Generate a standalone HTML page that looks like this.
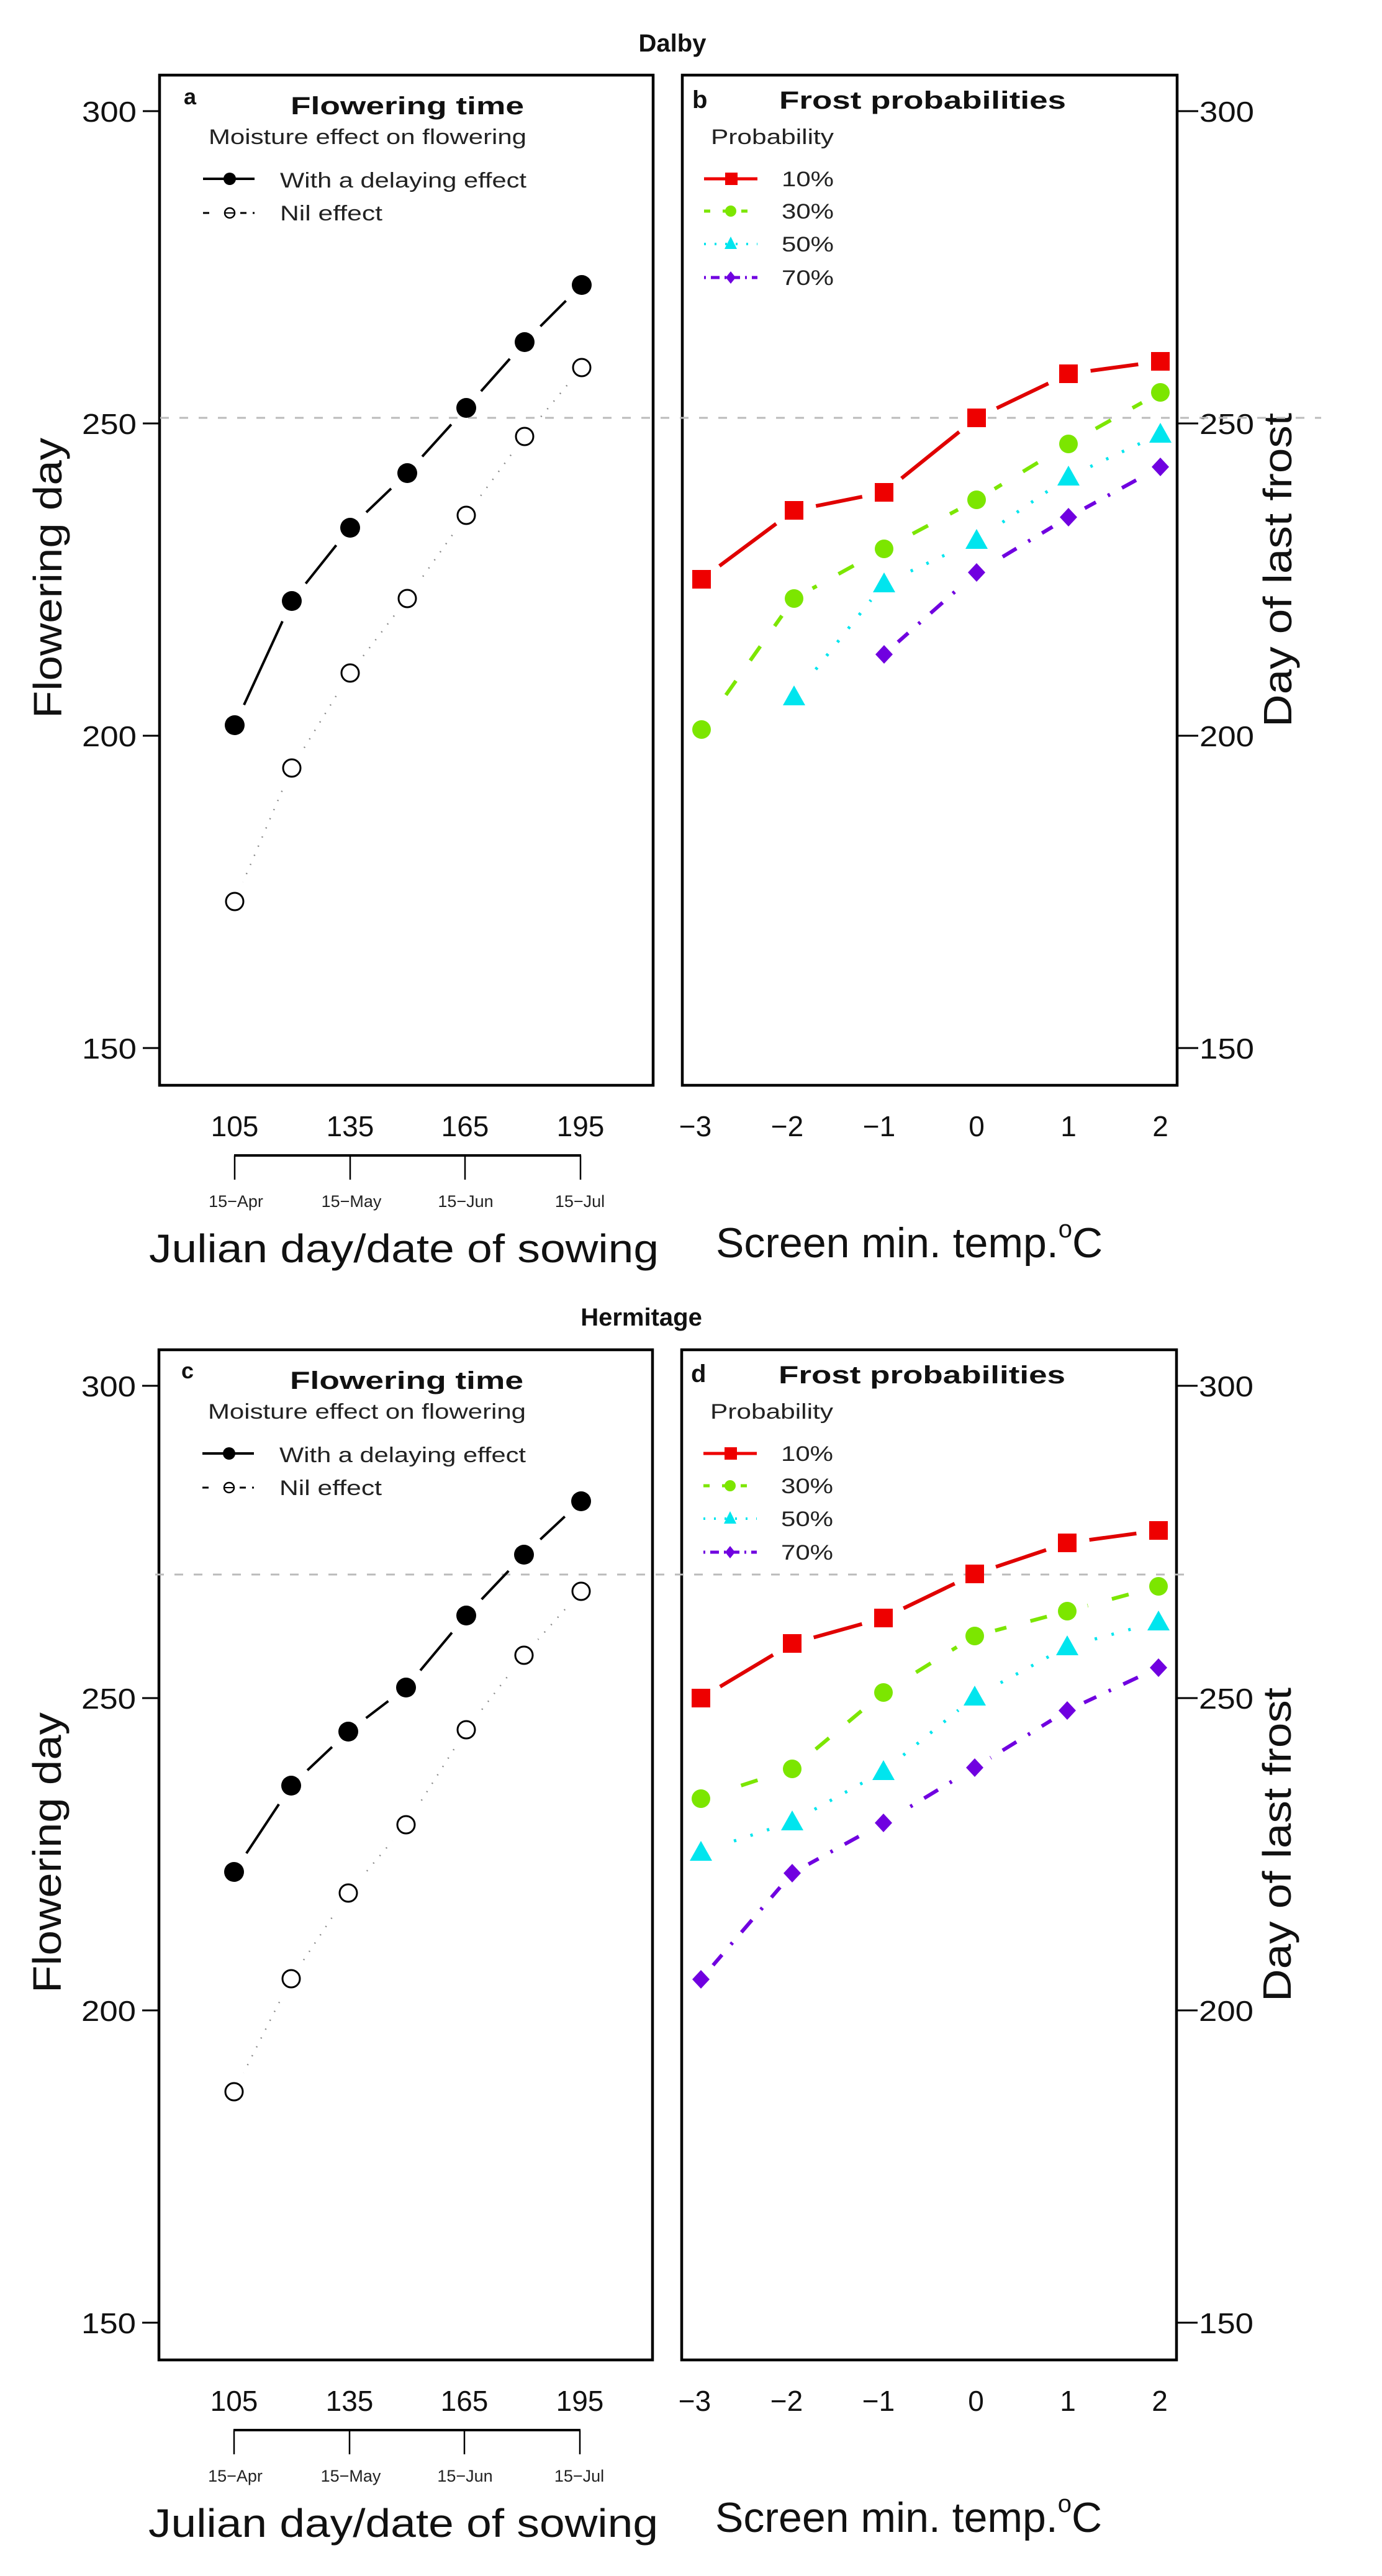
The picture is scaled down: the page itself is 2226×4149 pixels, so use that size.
<!DOCTYPE html>
<html><head><meta charset="utf-8"><style>
html,body{margin:0;padding:0;background:#fff}
svg{display:block}
text{font-family:"Liberation Sans",Arial,sans-serif}
.b{font-weight:bold}
</style></head><body>
<svg width="2226" height="4149" viewBox="0 0 2226 4149" xmlns="http://www.w3.org/2000/svg">
<defs>
<g id="frame">
  <rect x="257" y="121" width="795" height="1627" fill="none" stroke="#000" stroke-width="4.5"/>
  <rect x="1099" y="121" width="797" height="1627" fill="none" stroke="#000" stroke-width="4.5"/>
  <g stroke="#000" stroke-width="3">
    <line x1="230" y1="179" x2="257" y2="179"/><line x1="230" y1="682" x2="257" y2="682"/>
    <line x1="230" y1="1185" x2="257" y2="1185"/><line x1="230" y1="1688" x2="257" y2="1688"/>
    <line x1="1896" y1="179" x2="1930" y2="179"/><line x1="1896" y1="682" x2="1930" y2="682"/>
    <line x1="1896" y1="1185" x2="1930" y2="1185"/><line x1="1896" y1="1688" x2="1930" y2="1688"/>
  </g>
  <g font-size="46" fill="#111" text-anchor="end">
    <text x="220" y="196" textLength="88" lengthAdjust="spacingAndGlyphs">300</text>
    <text x="220" y="699" textLength="88" lengthAdjust="spacingAndGlyphs">250</text>
    <text x="220" y="1202" textLength="88" lengthAdjust="spacingAndGlyphs">200</text>
    <text x="220" y="1705" textLength="88" lengthAdjust="spacingAndGlyphs">150</text>
  </g>
  <g font-size="46" fill="#111">
    <text x="1932" y="196" textLength="88" lengthAdjust="spacingAndGlyphs">300</text>
    <text x="1932" y="699" textLength="88" lengthAdjust="spacingAndGlyphs">250</text>
    <text x="1932" y="1202" textLength="88" lengthAdjust="spacingAndGlyphs">200</text>
    <text x="1932" y="1705" textLength="88" lengthAdjust="spacingAndGlyphs">150</text>
  </g>
  <g font-size="46" fill="#111" text-anchor="middle">
    <text x="378" y="1830">105</text><text x="564" y="1830">135</text>
    <text x="749" y="1830">165</text><text x="935" y="1830">195</text>
    <text x="1120" y="1830">−3</text><text x="1268" y="1830">−2</text>
    <text x="1416" y="1830">−1</text><text x="1573" y="1830">0</text>
    <text x="1721" y="1830">1</text><text x="1869" y="1830">2</text>
  </g>
  <line x1="377" y1="1861" x2="936" y2="1861" stroke="#000" stroke-width="4"/>
  <g stroke="#000" stroke-width="2.5">
    <line x1="378" y1="1861" x2="378" y2="1900"/><line x1="564" y1="1861" x2="564" y2="1900"/>
    <line x1="749" y1="1861" x2="749" y2="1900"/><line x1="935" y1="1861" x2="935" y2="1900"/>
  </g>
  <g font-size="27" fill="#222" text-anchor="middle">
    <text x="380" y="1944">15−Apr</text><text x="566" y="1944">15−May</text>
    <text x="750" y="1944">15−Jun</text><text x="934" y="1944">15−Jul</text>
  </g>
  <text x="240" y="2033" font-size="64" fill="#111" textLength="821" lengthAdjust="spacingAndGlyphs">Julian day/date of sowing</text>
  <text x="1153" y="2025" font-size="68" fill="#111">Screen min. temp.<tspan dy="-32" font-size="40">o</tspan><tspan dy="32">C</tspan></text>
  <text transform="translate(99,931) rotate(-90)" font-size="64" fill="#111" text-anchor="middle" textLength="452" lengthAdjust="spacingAndGlyphs">Flowering day</text>
  <text transform="translate(2080,918) rotate(-90)" font-size="64" fill="#111" text-anchor="middle" textLength="506" lengthAdjust="spacingAndGlyphs">Day of last frost</text>
  <text x="434" y="184" class="b" font-size="40" fill="#111" textLength="376" lengthAdjust="spacingAndGlyphs" dx="34">Flowering time</text>
  <text x="336" y="232" font-size="34" fill="#222" textLength="512" lengthAdjust="spacingAndGlyphs">Moisture effect on flowering</text>
  <line x1="327" y1="288" x2="410" y2="288" stroke="#000" stroke-width="4"/>
  <circle cx="370" cy="288" r="10" fill="#000"/>
  <text x="451" y="302" font-size="34" fill="#222" textLength="397" lengthAdjust="spacingAndGlyphs">With a delaying effect</text>
  <line x1="327" y1="343" x2="410" y2="343" stroke="#000" stroke-width="3" stroke-dasharray="10,50,10"/>
  <circle cx="370" cy="343" r="8" fill="none" stroke="#000" stroke-width="2.5"/>
  <line x1="362" y1="343" x2="378" y2="343" stroke="#000" stroke-width="2"/>
  <text x="451" y="355" font-size="34" fill="#222" textLength="165" lengthAdjust="spacingAndGlyphs">Nil effect</text>
  <text x="1255" y="175" class="b" font-size="40" fill="#111" textLength="462" lengthAdjust="spacingAndGlyphs">Frost probabilities</text>
  <text x="1145" y="232" font-size="34" fill="#222" textLength="198" lengthAdjust="spacingAndGlyphs">Probability</text>
  <line x1="1134" y1="288" x2="1220" y2="288" stroke="#e00" stroke-width="5"/>
  <rect x="1168" y="278" width="20" height="20" fill="#ee0000"/>
  <line x1="1134" y1="340" x2="1220" y2="340" stroke="#7ce600" stroke-width="5" stroke-dasharray="10,20"/>
  <circle cx="1177" cy="340" r="9" fill="#7ce600"/>
  <line x1="1134" y1="393" x2="1220" y2="393" stroke="#00e5ee" stroke-width="4" stroke-dasharray="3,14"/>
  <path d="M1177 381 L1187 401 L1167 401 Z" fill="#00e5ee"/>
  <line x1="1134" y1="447" x2="1220" y2="447" stroke="#7000e0" stroke-width="5" stroke-dasharray="3,8,14,8"/>
  <path d="M1177 437 L1185 447 L1177 457 L1169 447 Z" fill="#7000e0"/>
  <g font-size="34" fill="#222">
    <text x="1259" y="300" textLength="84" lengthAdjust="spacingAndGlyphs">10%</text>
    <text x="1259" y="352" textLength="84" lengthAdjust="spacingAndGlyphs">30%</text>
    <text x="1259" y="405" textLength="84" lengthAdjust="spacingAndGlyphs">50%</text>
    <text x="1259" y="459" textLength="84" lengthAdjust="spacingAndGlyphs">70%</text>
  </g>
</g>
</defs>

<!-- TOP -->
<text x="1083" y="83" class="b" font-size="40" text-anchor="middle" fill="#111">Dalby</text>
<use href="#frame"/>
<text x="296" y="168" class="b" font-size="36" fill="#111">a</text>
<text x="1115" y="174" class="b" font-size="40" fill="#111">b</text>
<line x1="258" y1="673" x2="2128" y2="673" stroke="#bbb" stroke-width="3" stroke-dasharray="14,17"/>

<mask id="m1"><rect width="2226" height="4149" fill="#fff"/>
<g fill="#000"><circle cx="378" cy="1168" r="36"/><circle cx="470" cy="968" r="36"/><circle cx="564" cy="850" r="36"/><circle cx="656" cy="762" r="36"/><circle cx="751" cy="657" r="36"/><circle cx="845" cy="551" r="36"/><circle cx="937" cy="459" r="36"/></g></mask>
<polyline mask="url(#m1)" points="378,1168 470,968 564,850 656,762 751,657 845,551 937,459" fill="none" stroke="#000" stroke-width="4"/>
<mask id="m2"><rect width="2226" height="4149" fill="#fff"/>
<g fill="#000"><circle cx="378" cy="1452" r="34"/><circle cx="470" cy="1237" r="34"/><circle cx="564" cy="1084" r="34"/><circle cx="656" cy="964" r="34"/><circle cx="751" cy="830" r="34"/><circle cx="845" cy="703" r="34"/><circle cx="937" cy="592" r="34"/></g></mask>
<polyline mask="url(#m2)" points="378,1452 470,1237 564,1084 656,964 751,830 845,703 937,592" fill="none" stroke="#888" stroke-width="2.5" stroke-dasharray="2,14"/>
<g fill="#000"><circle cx="378" cy="1168" r="16"/><circle cx="470" cy="968" r="16"/><circle cx="564" cy="850" r="16"/><circle cx="656" cy="762" r="16"/><circle cx="751" cy="657" r="16"/><circle cx="845" cy="551" r="16"/><circle cx="937" cy="459" r="16"/></g>
<g fill="#fff" stroke="#000" stroke-width="3"><circle cx="378" cy="1452" r="14"/><circle cx="470" cy="1237" r="14"/><circle cx="564" cy="1084" r="14"/><circle cx="656" cy="964" r="14"/><circle cx="751" cy="830" r="14"/><circle cx="845" cy="703" r="14"/><circle cx="937" cy="592" r="14"/></g>

<mask id="m3"><rect width="2226" height="4149" fill="#fff"/>
<g fill="#000">
<circle cx="1130" cy="933" r="36"/><circle cx="1279" cy="822" r="36"/><circle cx="1424" cy="793" r="36"/><circle cx="1573" cy="673" r="36"/><circle cx="1721" cy="602" r="36"/><circle cx="1869" cy="582" r="36"/>
<circle cx="1130" cy="1175" r="34"/><circle cx="1279" cy="964" r="34"/><circle cx="1424" cy="884" r="34"/><circle cx="1573" cy="805" r="34"/><circle cx="1721" cy="715" r="34"/><circle cx="1869" cy="632" r="34"/>
<circle cx="1279" cy="1122" r="34"/><circle cx="1424" cy="940" r="34"/><circle cx="1573" cy="870" r="34"/><circle cx="1721" cy="768" r="34"/><circle cx="1869" cy="699" r="34"/>
<circle cx="1424" cy="1054" r="30"/><circle cx="1573" cy="922" r="30"/><circle cx="1721" cy="833" r="30"/><circle cx="1869" cy="752" r="30"/>
</g></mask>
<g mask="url(#m3)" fill="none">
<polyline points="1130,933 1279,822 1424,793 1573,673 1721,602 1869,582" stroke="#e00000" stroke-width="6"/>
<polyline points="1130,1175 1279,964 1424,884 1573,805 1721,715 1869,632" stroke="#7ce600" stroke-width="6" stroke-dasharray="28,40"/>
<polyline points="1279,1122 1424,940 1573,870 1721,768 1869,699" stroke="#00e5ee" stroke-width="5" stroke-dasharray="4,24"/>
<polyline points="1424,1054 1573,922 1721,833 1869,752" stroke="#7000e0" stroke-width="6" stroke-dasharray="4,22,26,22"/>
</g>
<g fill="#ee0000"><rect x="1115" y="918" width="30" height="30"/><rect x="1264" y="807" width="30" height="30"/><rect x="1409" y="778" width="30" height="30"/><rect x="1558" y="658" width="30" height="30"/><rect x="1706" y="587" width="30" height="30"/><rect x="1854" y="567" width="30" height="30"/></g>
<g fill="#7ce600"><circle cx="1130" cy="1175" r="15"/><circle cx="1279" cy="964" r="15"/><circle cx="1424" cy="884" r="15"/><circle cx="1573" cy="805" r="15"/><circle cx="1721" cy="715" r="15"/><circle cx="1869" cy="632" r="15"/></g>
<g fill="#00e5ee"><path d="M1279 1104 L1297 1136 L1261 1136Z"/><path d="M1424 922 L1442 954 L1406 954Z"/><path d="M1573 852 L1591 884 L1555 884Z"/><path d="M1721 750 L1739 782 L1703 782Z"/><path d="M1869 681 L1887 713 L1851 713Z"/></g>
<g fill="#7000e0"><path d="M1424 1039 L1438 1054 L1424 1069 L1410 1054Z"/><path d="M1573 907 L1587 922 L1573 937 L1559 922Z"/><path d="M1721 818 L1735 833 L1721 848 L1707 833Z"/><path d="M1869 737 L1883 752 L1869 767 L1855 752Z"/></g>

<!-- BOTTOM -->
<text x="1033" y="2135" class="b" font-size="40" text-anchor="middle" fill="#111">Hermitage</text>
<use href="#frame" transform="translate(-1,2053)"/>
<text x="292" y="2220" class="b" font-size="36" fill="#111">c</text>
<text x="1113" y="2226" class="b" font-size="40" fill="#111">d</text>
<line x1="250" y1="2536" x2="1914" y2="2536" stroke="#bbb" stroke-width="3" stroke-dasharray="14,17"/>

<mask id="m4"><rect width="2226" height="4149" fill="#fff"/>
<g fill="#000"><circle cx="377" cy="3015" r="36"/><circle cx="469" cy="2876" r="36"/><circle cx="561" cy="2789" r="36"/><circle cx="654" cy="2718" r="36"/><circle cx="751" cy="2602" r="36"/><circle cx="844" cy="2504" r="36"/><circle cx="936" cy="2418" r="36"/></g></mask>
<polyline mask="url(#m4)" points="377,3015 469,2876 561,2789 654,2718 751,2602 844,2504 936,2418" fill="none" stroke="#000" stroke-width="4"/>
<mask id="m5"><rect width="2226" height="4149" fill="#fff"/>
<g fill="#000"><circle cx="377" cy="3369" r="34"/><circle cx="469" cy="3187" r="34"/><circle cx="561" cy="3049" r="34"/><circle cx="654" cy="2939" r="34"/><circle cx="751" cy="2786" r="34"/><circle cx="844" cy="2666" r="34"/><circle cx="936" cy="2563" r="34"/></g></mask>
<polyline mask="url(#m5)" points="377,3369 469,3187 561,3049 654,2939 751,2786 844,2666 936,2563" fill="none" stroke="#888" stroke-width="2.5" stroke-dasharray="2,14"/>
<g fill="#000"><circle cx="377" cy="3015" r="16"/><circle cx="469" cy="2876" r="16"/><circle cx="561" cy="2789" r="16"/><circle cx="654" cy="2718" r="16"/><circle cx="751" cy="2602" r="16"/><circle cx="844" cy="2504" r="16"/><circle cx="936" cy="2418" r="16"/></g>
<g fill="#fff" stroke="#000" stroke-width="3"><circle cx="377" cy="3369" r="14"/><circle cx="469" cy="3187" r="14"/><circle cx="561" cy="3049" r="14"/><circle cx="654" cy="2939" r="14"/><circle cx="751" cy="2786" r="14"/><circle cx="844" cy="2666" r="14"/><circle cx="936" cy="2563" r="14"/></g>

<mask id="m6"><rect width="2226" height="4149" fill="#fff"/>
<g fill="#000">
<circle cx="1129" cy="2735" r="36"/><circle cx="1276" cy="2647" r="36"/><circle cx="1423" cy="2606" r="36"/><circle cx="1570" cy="2535" r="36"/><circle cx="1719" cy="2485" r="36"/><circle cx="1866" cy="2465" r="36"/>
<circle cx="1129" cy="2897" r="34"/><circle cx="1276" cy="2849" r="34"/><circle cx="1423" cy="2726" r="34"/><circle cx="1570" cy="2635" r="34"/><circle cx="1719" cy="2595" r="34"/><circle cx="1866" cy="2555" r="34"/>
<circle cx="1129" cy="2983" r="34"/><circle cx="1276" cy="2934" r="34"/><circle cx="1423" cy="2853" r="34"/><circle cx="1570" cy="2733" r="34"/><circle cx="1719" cy="2652" r="34"/><circle cx="1866" cy="2612" r="34"/>
<circle cx="1129" cy="3188" r="30"/><circle cx="1276" cy="3017" r="30"/><circle cx="1423" cy="2936" r="30"/><circle cx="1570" cy="2847" r="30"/><circle cx="1719" cy="2755" r="30"/><circle cx="1866" cy="2686" r="30"/>
</g></mask>
<g mask="url(#m6)" fill="none">
<polyline points="1129,2735 1276,2647 1423,2606 1570,2535 1719,2485 1866,2465" stroke="#e00000" stroke-width="6"/>
<polyline points="1129,2897 1276,2849 1423,2726 1570,2635 1719,2595 1866,2555" stroke="#7ce600" stroke-width="6" stroke-dasharray="28,40"/>
<polyline points="1129,2983 1276,2934 1423,2853 1570,2733 1719,2652 1866,2612" stroke="#00e5ee" stroke-width="5" stroke-dasharray="4,24"/>
<polyline points="1129,3188 1276,3017 1423,2936 1570,2847 1719,2755 1866,2686" stroke="#7000e0" stroke-width="6" stroke-dasharray="4,22,26,22"/>
</g>
<g fill="#ee0000"><rect x="1114" y="2720" width="30" height="30"/><rect x="1261" y="2632" width="30" height="30"/><rect x="1408" y="2591" width="30" height="30"/><rect x="1555" y="2520" width="30" height="30"/><rect x="1704" y="2470" width="30" height="30"/><rect x="1851" y="2450" width="30" height="30"/></g>
<g fill="#7ce600"><circle cx="1129" cy="2897" r="15"/><circle cx="1276" cy="2849" r="15"/><circle cx="1423" cy="2726" r="15"/><circle cx="1570" cy="2635" r="15"/><circle cx="1719" cy="2595" r="15"/><circle cx="1866" cy="2555" r="15"/></g>
<g fill="#00e5ee"><path d="M1129 2965 L1147 2997 L1111 2997Z"/><path d="M1276 2916 L1294 2948 L1258 2948Z"/><path d="M1423 2835 L1441 2867 L1405 2867Z"/><path d="M1570 2715 L1588 2747 L1552 2747Z"/><path d="M1719 2634 L1737 2666 L1701 2666Z"/><path d="M1866 2594 L1884 2626 L1848 2626Z"/></g>
<g fill="#7000e0"><path d="M1129 3173 L1143 3188 L1129 3203 L1115 3188Z"/><path d="M1276 3002 L1290 3017 L1276 3032 L1262 3017Z"/><path d="M1423 2921 L1437 2936 L1423 2951 L1409 2936Z"/><path d="M1570 2832 L1584 2847 L1570 2862 L1556 2847Z"/><path d="M1719 2740 L1733 2755 L1719 2770 L1705 2755Z"/><path d="M1866 2671 L1880 2686 L1866 2701 L1852 2686Z"/></g>
</svg>
</body></html>
